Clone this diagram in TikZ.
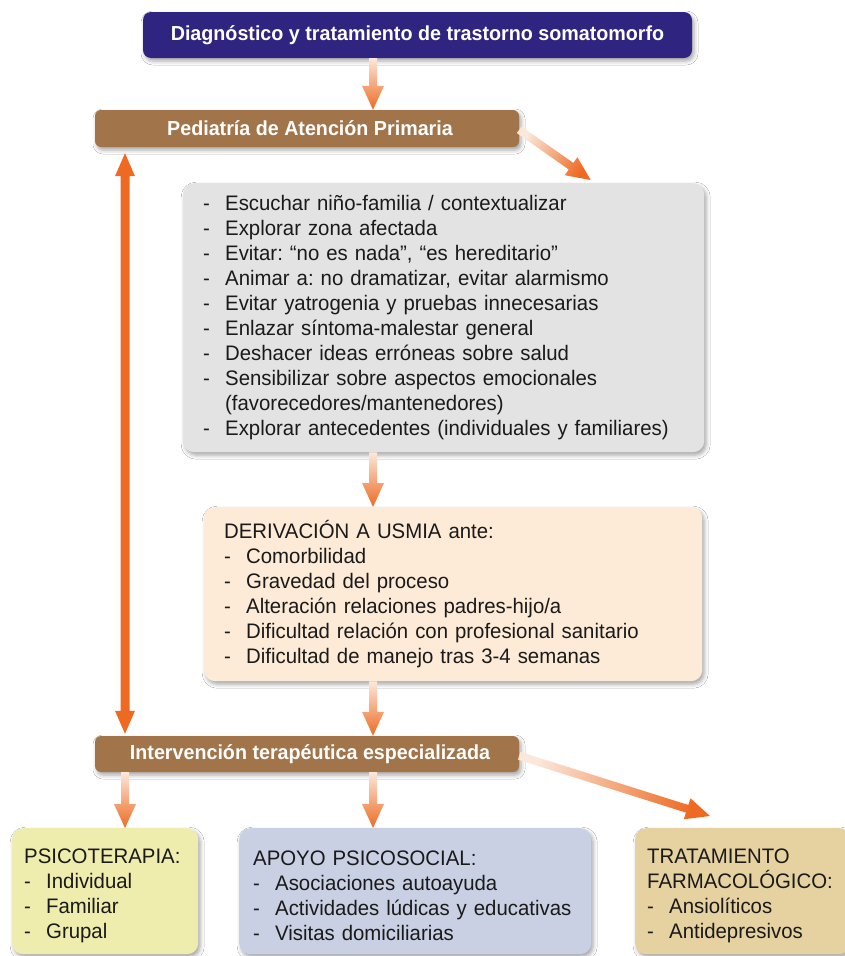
\documentclass[tikz,border=0pt]{standalone}
\usepackage{fontspec}
\setmainfont{Liberation Sans}[FakeStretch=0.97]
\usetikzlibrary{calc,shadows.blur}
\definecolor{topblue}{HTML}{2F2580}
\definecolor{brownbar}{HTML}{A1744A}
\definecolor{graybox}{HTML}{E3E3E3}
\definecolor{creambox}{HTML}{FDEBD7}
\definecolor{yellowbox}{HTML}{EFEDAE}
\definecolor{bluebox}{HTML}{C9D0E3}
\definecolor{tanbox}{HTML}{E6D2A0}
\definecolor{arrorange}{HTML}{EE6A22}
\definecolor{arrlight}{HTML}{FBE8DB}
\definecolor{txt}{HTML}{1A1A1A}
\newcommand\dashitem{\makebox[22pt][l]{-}}
\newcommand\topstrut{\rule{0pt}{23pt}}
% gradient arrow: #1 start, #2 end, #3 shading angle
\newcommand\gradarrow[3]{%
  \coordinate (hb) at ($(#2)!24pt!(#1)$);
  \shade[top color=arrlight, bottom color=arrorange, shading angle=#3]
    ($(#1)!4pt!90:(#2)$) -- ($(hb)!4pt!90:(#2)$) -- ($(hb)!11pt!90:(#2)$) -- (#2)
    -- ($(hb)!11pt!-90:(#2)$) -- ($(hb)!4pt!-90:(#2)$) -- ($(#1)!4pt!-90:(#2)$) -- cycle;
}
\tikzset{
  box/.style={rounded corners=11pt, inner sep=0pt, text=txt,
    blur shadow={shadow xshift=2pt, shadow yshift=-3pt, shadow blur radius=4pt, shadow opacity=35},
    font=\frenchspacing\fontsize{21}{25}\selectfont, align=left},
  bar/.style={rounded corners=6pt, inner sep=0pt, fill=brownbar, text=white,
    blur shadow={shadow xshift=2pt, shadow yshift=-3pt, shadow blur radius=4pt, shadow opacity=35},
    font=\bfseries\fontsize{20.3}{24}\selectfont}
}
\begin{document}
\frenchspacing
\begin{tikzpicture}[x=1pt,y=-1pt]
\useasboundingbox[fill=white] (0,0) rectangle (844,956);
% header
\node[bar, fill=topblue, rounded corners=8pt, minimum width=549pt, minimum height=46pt] (top) at (417.5,35) {Diagnóstico y tratamiento de trastorno somatomorfo};
\node[bar, minimum width=424pt, minimum height=37pt] (ped) at (307,128.5) {\hspace*{6pt}Pediatría de Atención Primaria};
\node[box, fill=graybox, anchor=north west, minimum width=521pt, minimum height=269pt, text width=481pt, inner xsep=20pt] (gray) at (183,183) {%
\dashitem Escuchar niño-familia / contextualizar\\
\dashitem Explorar zona afectada\\
\dashitem Evitar: “no es nada”, “es hereditario”\\
\dashitem Animar a: no dramatizar, evitar alarmismo\\
\dashitem Evitar yatrogenia y pruebas innecesarias\\
\dashitem Enlazar síntoma-malestar general\\
\dashitem Deshacer ideas erróneas sobre salud\\
\dashitem Sensibilizar sobre aspectos emocionales\\
\hspace*{22pt}(favorecedores/mantenedores)\\
\dashitem Explorar antecedentes (individuales y familiares)};
\node[box, fill=creambox, anchor=north west, minimum width=498pt, minimum height=174pt, text width=458pt, inner xsep=20pt] (cream) at (204,507) {%
DERIVACIÓN A USMIA ante:\\
\dashitem Comorbilidad\\
\dashitem Gravedad del proceso\\
\dashitem Alteración relaciones padres-hijo/a\\
\dashitem Dificultad relación con profesional sanitario\\
\dashitem Dificultad de manejo tras 3-4 semanas};
\node[bar, minimum width=424pt, minimum height=36pt] (int) at (307,754) {\hspace*{6pt}Intervención terapéutica especializada};
\node[box, fill=yellowbox, anchor=north west, minimum width=186pt, minimum height=126pt, text width=162pt, inner xsep=12pt] (psi) at (12,828) {%
\topstrut PSICOTERAPIA:\\
\dashitem Individual\\
\dashitem Familiar\\
\dashitem Grupal};
\node[box, fill=bluebox, anchor=north west, minimum width=352pt, minimum height=126pt, text width=324pt, inner xsep=14pt] (apo) at (239,828) {%
\topstrut APOYO PSICOSOCIAL:\\
\dashitem Asociaciones autoayuda\\
\dashitem Actividades lúdicas y educativas\\
\dashitem Visitas domiciliarias};
\node[box, fill=tanbox, anchor=north west, minimum width=215pt, minimum height=126pt, text width=191pt, inner xsep=12pt] (tra) at (635,828) {%
\topstrut TRATAMIENTO\\
FARMACOLÓGICO:\\
\dashitem Ansiolíticos\\
\dashitem Antidepresivos};
% columns for arrows
\coordinate (colA) at (125,0);
\coordinate (colB) at (373,0);
% connectors
\coordinate (a1s) at (top.south -| colB);
\coordinate (a1e) at (ped.north -| colB);
\gradarrow{a1s}{a1e}{0}
\coordinate (a2s) at ($(ped.north east)+(0,20)$);
\coordinate (a2e) at ($(gray.north)+(147,-3)$);
\gradarrow{a2s}{a2e}{56}
\coordinate (a3s) at (gray.south -| colB);
\coordinate (a3e) at (cream.north -| colB);
\gradarrow{a3s}{a3e}{0}
\coordinate (a4s) at (cream.south -| colB);
\coordinate (a4e) at (int.north -| colB);
\gradarrow{a4s}{a4e}{0}
\coordinate (a5s) at (int.south -| colA);
\coordinate (a5e) at (psi.north -| colA);
\gradarrow{a5s}{a5e}{0}
\coordinate (a6s) at (int.south -| colB);
\coordinate (a6e) at (apo.north -| colB);
\gradarrow{a6s}{a6e}{0}
\coordinate (a7s) at ($(int.north east)+(0,20)$);
\coordinate (a7e) at ($(tra.north west)+(75,-12)$);
\gradarrow{a7s}{a7e}{73}
% double arrow
\coordinate (dt) at ($(ped.south -| colA)+(0,6)$);
\coordinate (db) at ($(int.north -| colA)+(0,-2)$);
\fill[arrorange] (dt) -- ($(dt)+(10,23)$) -- ($(dt)+(4.5,23)$) -- ($(db)+(4.5,-23)$) -- ($(db)+(10,-23)$) -- (db)
  -- ($(db)+(-10,-23)$) -- ($(db)+(-4.5,-23)$) -- ($(dt)+(-4.5,23)$) -- ($(dt)+(-10,23)$) -- cycle;
\end{tikzpicture}
\end{document}
